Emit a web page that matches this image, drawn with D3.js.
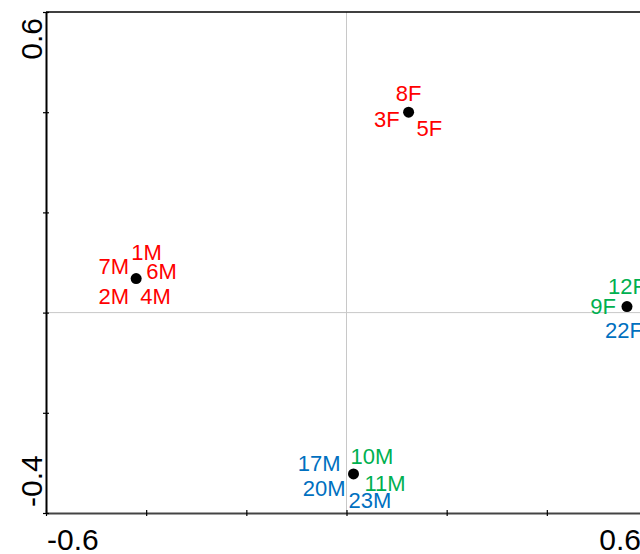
<!DOCTYPE html>
<html>
<head>
<meta charset="utf-8">
<script src="https://cdn.jsdelivr.net/npm/d3@7"></script>
<style>
html,body{margin:0;padding:0;background:#fff;overflow:hidden;}
svg{display:block;font-family:"Liberation Sans",Arial,sans-serif;}
</style>
</head>
<body>
<svg id="chart" width="640" height="554"></svg>
<script>
// Data
const labels = ["8F","3F","5F","1M","7M","6M","2M","4M","12F","9F","22F","17M","10M","11M","20M","23M"];
const groups = ["red","red","red","red","red","red","red","red","green","green","blue","blue","green","green","blue","blue"];
const xValues = [0.124,0.124,0.124,-0.42,-0.42,-0.42,-0.42,-0.42,0.56,0.56,0.56,0.014,0.014,0.014,0.014,0.014];
const yValues = [0.40,0.40,0.40,0.068,0.068,0.068,0.068,0.068,0.012,0.012,0.012,-0.322,-0.322,-0.322,-0.322,-0.322];
const xTicks = [-0.6,-0.4,-0.2,0,0.2,0.4,0.6];
const yTicks = [-0.4,-0.2,0,0.2,0.4,0.6];
const xTickLabels = ["-0.6","0.6"];
const yTickLabels = ["-0.4","0.6"];

// Label placement (style/layout, not data): [anchor, dx, dy]
const labelLayout = [
  ["middle",0,-11],["end",-9,15],["start",8,24],
  ["start",-5,-19],["end",-7,-5],["start",10,0],["end",-7,25],["start",4,25],
  ["start",-19,-13],["end",-11,7],["start",-22,31],
  ["end",-13,-3],["start",-3,-10],["start",11,17],["end",-8,22],["start",-5,34]
];
const colorMap = {red:"#ff0000", green:"#00b050", blue:"#0070c0"};

const svg = d3.select("#chart");
const x = d3.scaleLinear().domain([-0.6,0.6]).range([46,647]);
const y = d3.scaleLinear().domain([-0.4,0.6]).range([513,12]);

// gridlines at zero
svg.append("line").attr("x1",x(0)).attr("x2",x(0)).attr("y1",y(0.6)).attr("y2",y(-0.4))
  .attr("stroke","#c8c8c8").attr("stroke-width",1);
svg.append("line").attr("x1",x(-0.6)).attr("x2",x(0.6)).attr("y1",y(0)).attr("y2",y(0))
  .attr("stroke","#c8c8c8").attr("stroke-width",1);

// top border
svg.append("line").attr("x1",x(-0.6)).attr("x2",x(0.6)).attr("y1",y(0.6)).attr("y2",y(0.6))
  .attr("stroke","#000").attr("stroke-width",1.5);

// x axis
const xAxis = d3.axisBottom(x).tickValues(xTicks).tickSize(0).tickFormat("");
const gx = svg.append("g").attr("transform",`translate(0,${y(-0.4)})`).call(xAxis);
gx.select(".domain").attr("stroke","#444").attr("stroke-width",2);
gx.selectAll(".tick").append("line").attr("y1",-3).attr("y2",3).attr("stroke","#000").attr("stroke-width",1.2);

// y axis
const yAxis = d3.axisLeft(y).tickValues(yTicks).tickSize(0).tickFormat("");
const gy = svg.append("g").attr("transform",`translate(${x(-0.6)},0)`).call(yAxis);
gy.select(".domain").attr("stroke","#000").attr("stroke-width",2);
gy.selectAll(".tick").append("line").attr("x1",-3).attr("x2",3).attr("stroke","#000").attr("stroke-width",1.2);

// end tick labels
svg.append("text").attr("x",x(-0.6)+1).attr("y",550).attr("text-anchor","start")
  .attr("font-size",30).attr("fill","#000").text(xTickLabels[0]);
svg.append("text").attr("x",x(0.6)-6).attr("y",550).attr("text-anchor","end")
  .attr("font-size",30).attr("fill","#000").text(xTickLabels[1]);
svg.append("text").attr("transform",`translate(42,${y(-0.4)-6}) rotate(-90)`).attr("text-anchor","start")
  .attr("font-size",30).attr("fill","#000").text(yTickLabels[0]);
svg.append("text").attr("transform",`translate(42,${y(0.6)+6}) rotate(-90)`).attr("text-anchor","end")
  .attr("font-size",30).attr("fill","#000").text(yTickLabels[1]);

// points
const pts = labels.map((l,i)=>({label:l, g:groups[i], x:xValues[i], y:yValues[i], lay:labelLayout[i]}));
const uniq = d3.groups(pts, d=>d.x+","+d.y).map(g=>g[1][0]);
svg.selectAll("circle.pt").data(uniq).join("circle").attr("class","pt")
  .attr("cx",d=>x(d.x)).attr("cy",d=>y(d.y)).attr("r",5.5).attr("fill","#000");

svg.selectAll("text.lbl").data(pts).join("text").attr("class","lbl")
  .attr("x",d=>x(d.x)+d.lay[1]).attr("y",d=>y(d.y)+d.lay[2])
  .attr("text-anchor",d=>d.lay[0]).attr("font-size",22)
  .attr("fill",d=>colorMap[d.g]).text(d=>d.label);
</script>
</body>
</html>
